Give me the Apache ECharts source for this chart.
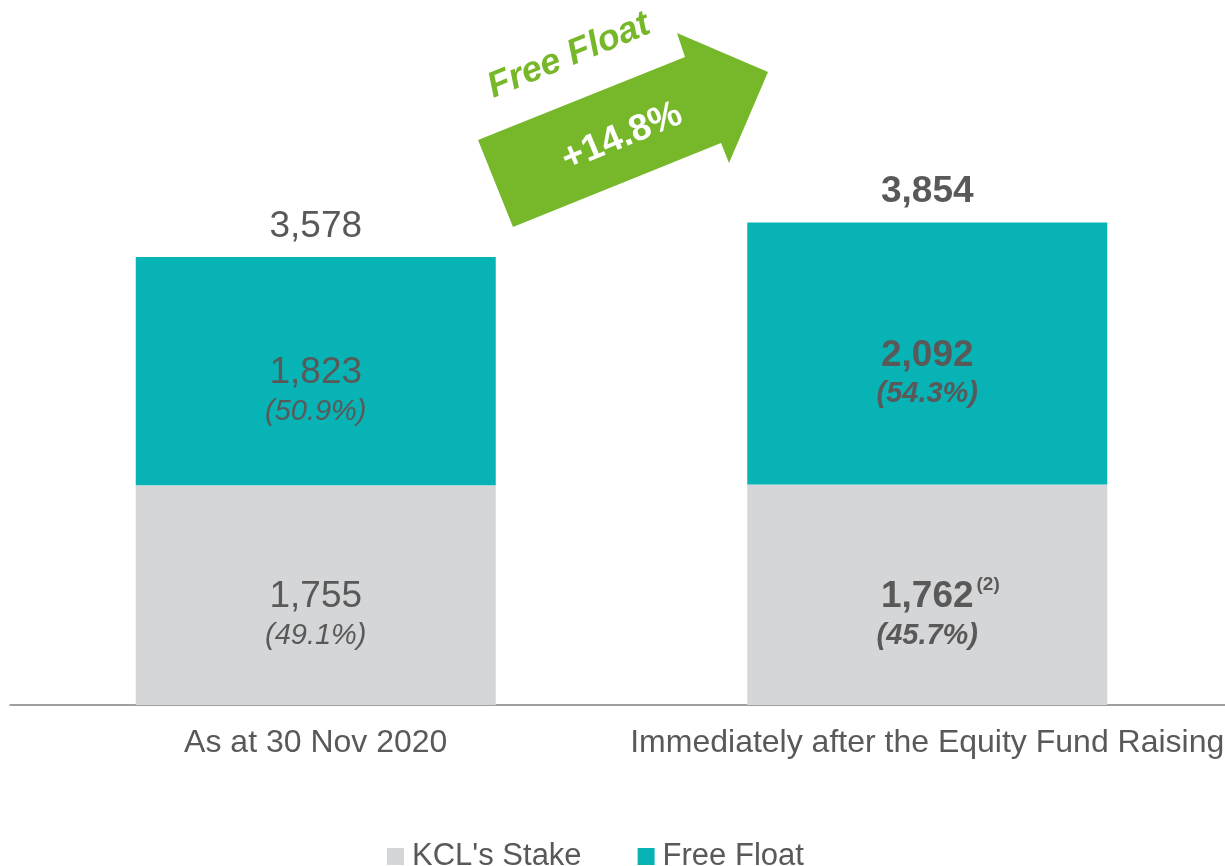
<!DOCTYPE html>
<html>
<head>
<meta charset="utf-8">
<script src="https://cdn.jsdelivr.net/npm/echarts@6/dist/echarts.min.js"></script>
<style>
	html,body{margin:0;padding:0;background:#fff;}
	#main{width:1225px;height:866px;}
</style>
</head>
<body>
<div id="main"></div>
<script>
// 数据
var categories = ['As at 30 Nov 2020', 'Immediately after the Equity Fund Raising'];
var kclStake = [1755, 1762];
var freeFloat = [1823, 2092];
var totals = [3578, 3854];
var kclPct = ['49.1%', '45.7%'];
var freePct = ['50.9%', '54.3%'];
var kclNote = ['', '(2)'];
var boldFlag = [false, true];
var arrowText = 'Free Float';
var arrowChange = '+14.8%';

var textColor = '#595959';
var fontFamily = 'Arial, "Liberation Sans", sans-serif';

function fmt(n){
	return n.toLocaleString('en-US');
}

function segLabel(vals, pcts, notes){
	return {
		show: true,
		position: 'inside',
		offset: [0, 20],
		formatter: function(p){
			var b = boldFlag[p.dataIndex] ? 'B' : '';
			var n = notes && notes[p.dataIndex];
			// 左边放一个透明的占位，让数字本身居中
			var pre = n ? '{pad|' + n + '}' : '';
			var note = n ? '{sup|' + n + '}' : '';
			return pre + '{v' + b + '|' + fmt(vals[p.dataIndex]) + '}' + note + '\n{p' + b + '|(' + pcts[p.dataIndex] + ')}';
		},
		rich: {
			v: {fontSize: 37, color: textColor, fontFamily: fontFamily, lineHeight: 42},
			vB: {fontSize: 37, color: textColor, fontFamily: fontFamily, fontWeight: 'bold', lineHeight: 42},
			p: {fontSize: 29, color: textColor, fontFamily: fontFamily, fontStyle: 'italic', lineHeight: 36},
			pB: {fontSize: 29, color: textColor, fontFamily: fontFamily, fontStyle: 'italic', fontWeight: 'bold', lineHeight: 36},
			sup: {fontSize: 19, color: textColor, fontFamily: fontFamily, fontWeight: 'bold', verticalAlign: 'top', lineHeight: 42, padding: [0, 0, 16, 3]},
			pad: {fontSize: 19, color: 'transparent', fontFamily: fontFamily, fontWeight: 'bold', verticalAlign: 'top', lineHeight: 42, padding: [0, 3, 16, 0]}
		}
	};
}

var myChart = echarts.init(document.getElementById('main'));

var option = {
	animation: false,
	grid: {left: 10, top: 79, width: 1223, height: 626, containLabel: false, outerBoundsMode: 'none'},
	legend: {
		top: 836,
		left: 382,
		itemWidth: 17,
		itemHeight: 17,
		itemGap: 56,
		icon: 'rect',
		textStyle: {fontSize: 31, color: textColor, fontFamily: fontFamily, padding: [0, 0, 0, 3]},
		data: ["KCL's Stake", 'Free Float']
	},
	xAxis: {
		type: 'category',
		data: categories,
		axisTick: {show: false},
		axisLine: {lineStyle: {color: '#808080', width: 1.5}},
		axisLabel: {
			interval: 0,
			hideOverlap: false,
			showMaxLabel: true,
			fontSize: 32,
			color: textColor,
			fontFamily: fontFamily,
			margin: 22
		}
	},
	yAxis: {
		type: 'value',
		min: 0,
		max: 5000,
		show: false,
		splitLine: {show: false}
	},
	series: [{
		name: "KCL's Stake",
		type: 'bar',
		stack: 'total',
		barWidth: 360,
		itemStyle: {color: '#D5D6D8'},
		label: segLabel(kclStake, kclPct, kclNote),
		data: kclStake
	}, {
		name: 'Free Float',
		type: 'bar',
		stack: 'total',
		barWidth: 360,
		itemStyle: {color: '#07B3B4'},
		label: segLabel(freeFloat, freePct),
		data: freeFloat
	}, {
		name: 'total',
		type: 'scatter',
		symbolSize: 0,
		silent: true,
		itemStyle: {opacity: 1},
		label: {
			show: true,
			position: 'top',
			distance: 12,
			formatter: function(p){
				return '{' + (boldFlag[p.dataIndex] ? 'b' : 'n') + '|' + fmt(totals[p.dataIndex]) + '}';
			},
			rich: {
				n: {fontSize: 37, color: textColor, fontFamily: fontFamily},
				b: {fontSize: 37, color: textColor, fontFamily: fontFamily, fontWeight: 'bold'}
			}
		},
		data: totals
	}],
	graphic: [{
		// 箭头
		type: 'polygon',
		shape: {points: [[513, 227], [478, 140], [685, 57], [677, 33], [768, 72], [729, 163], [721, 143]]},
		style: {fill: '#77B82A'},
		z: 10
	}, {
		type: 'text',
		x: 569, y: 56,
		rotation: 22.5 * Math.PI / 180,
		style: {
			text: arrowText,
			fill: '#77B82A',
			font: 'italic bold 36px ' + fontFamily,
			align: 'center',
			verticalAlign: 'middle'
		},
		z: 11
	}, {
		type: 'text',
		x: 622, y: 137,
		rotation: 22.5 * Math.PI / 180,
		style: {
			text: arrowChange,
			fill: '#ffffff',
			font: 'bold 37px ' + fontFamily,
			align: 'center',
			verticalAlign: 'middle'
		},
		z: 11
	}]
};

myChart.setOption(option);
</script>
</body>
</html>
